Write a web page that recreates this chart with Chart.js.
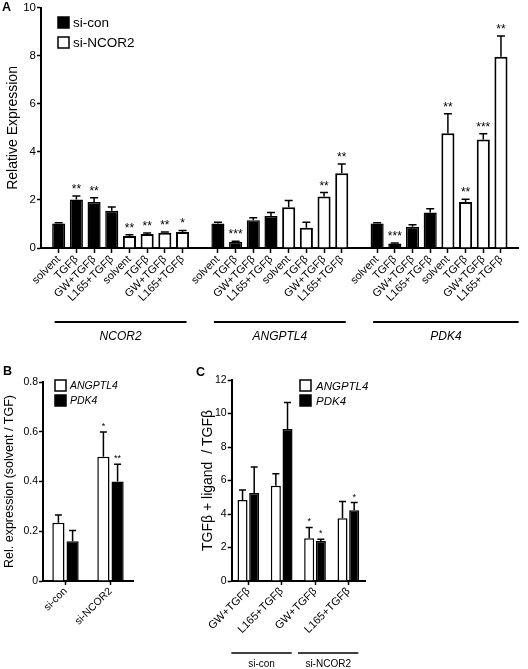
<!DOCTYPE html>
<html>
<head>
<meta charset="utf-8">
<script src="https://cdn.jsdelivr.net/npm/chart.js@4.4.1/dist/chart.umd.min.js"></script>
<style>
  body { margin: 0; background: #fff; }
  #wrap { position: relative; width: 528px; height: 669px; overflow: hidden; }
  canvas { position: absolute; }
  .panel { position: absolute; font: bold 12.5px "Liberation Sans", Arial, sans-serif; color: #000; }
</style>
</head>
<body>
<div id="wrap">
  <canvas id="chartA" width="528" height="360" style="left:0;top:0"></canvas>
  <canvas id="chartB" width="170" height="309" style="left:0;top:360px"></canvas>
  <canvas id="chartC" width="358" height="309" style="left:170px;top:360px"></canvas>
  <div class="panel" style="left:2px;top:0px">A</div>
  <div class="panel" style="left:3px;top:364px">B</div>
  <div class="panel" style="left:196px;top:365px">C</div>
</div>
<script>
const FONT = '"Liberation Sans", Arial, Helvetica, sans-serif';

// ---- panel A data (per gene: solvent, TGFb, GW+TGFb, L165+TGFb) ----
const genes = ['NCOR2', 'ANGPTL4', 'PDK4'];
const treatments = ['solvent', 'TGFβ', 'GW+TGFβ', 'L165+TGFβ'];
const siConMean  = [1.02, 2.02, 1.92, 1.55,   1.02, 0.26, 1.16, 1.33,   1.02, 0.19, 0.88, 1.48];
const siConSem   = [0.03, 0.15, 0.17, 0.16,   0.05, 0.02, 0.10, 0.15,   0.03, 0.02, 0.09, 0.15];
const siConStars = ['', '**', '**', '',       '', '***', '', '',       '', '***', '', ''];
const siNcorMean  = [0.50, 0.58, 0.63, 0.67,  1.70, 0.84, 2.15, 3.11,   4.78, 1.92, 4.52, 7.97];
const siNcorSem   = [0.05, 0.04, 0.04, 0.06,  0.28, 0.23, 0.16, 0.39,   0.81, 0.11, 0.24, 0.86];
const siNcorStars = ['**', '**', '**', '*',   '', '', '**', '**',      '**', '**', '***', '**'];

// ---- panel B data ----
const bGroups = ['si-con', 'si-NCOR2'];
const bAngptl4 = [0.234, 0.499];
const bAngptl4Sem = [0.031, 0.10];
const bAngptl4Stars = ['', '*'];
const bPdk4 = [0.16, 0.40];
const bPdk4Sem = [0.043, 0.069];
const bPdk4Stars = ['', '**'];

// ---- panel C data ----
const cLabels = ['GW+TGFβ', 'L165+TGFβ', 'GW+TGFβ', 'L165+TGFβ'];
const cAngptl4 = [4.84, 5.68, 2.55, 3.74];
const cAngptl4Sem = [0.59, 0.72, 0.65, 1.0];
const cAngptl4Stars = ['', '', '*', ''];
const cPdk4 = [5.25, 9.08, 2.39, 4.22];
const cPdk4Sem = [1.55, 1.57, 0.11, 0.46];
const cPdk4Stars = ['', '', '*', '*'];

// error bars + significance stars, drawn from the bar elements
const errorBars = {
  id: 'errorBars',
  afterDatasetsDraw(chart, args, opts) {
    const ctx = chart.ctx;
    const y = chart.scales.y;
    chart.data.datasets.forEach((ds, di) => {
      const meta = chart.getDatasetMeta(di);
      meta.data.forEach((bar, i) => {
        const v = ds.data[i];
        if (v == null) return;
        const top = y.getPixelForValue(v + ds.err[i]);
        ctx.save();
        ctx.strokeStyle = '#000';
        ctx.lineWidth = opts.width;
        ctx.beginPath();
        ctx.moveTo(bar.x, bar.y);
        ctx.lineTo(bar.x, top);
        ctx.moveTo(bar.x - opts.cap, top);
        ctx.lineTo(bar.x + opts.cap, top);
        ctx.stroke();
        if (ds.stars && ds.stars[i]) {
          ctx.fillStyle = '#000';
          ctx.font = opts.starSize + 'px ' + FONT;
          ctx.textAlign = 'center';
          ctx.textBaseline = 'alphabetic';
          ctx.fillText(ds.stars[i], bar.x, top - opts.starGap);
        }
        ctx.restore();
      });
    });
  }
};

// small box legend sitting inside the plot
const boxLegend = {
  id: 'boxLegend',
  afterDraw(chart, args, o) {
    const ctx = chart.ctx;
    ctx.save();
    o.items.forEach((it, k) => {
      const by = o.y + k * o.step;
      ctx.fillStyle = it.fill;
      ctx.fillRect(o.x, by, o.box, o.box);
      ctx.strokeStyle = '#000';
      ctx.lineWidth = 1.5;
      ctx.strokeRect(o.x, by, o.box, o.box);
      ctx.fillStyle = '#000';
      ctx.font = o.font;
      ctx.textAlign = 'left';
      ctx.textBaseline = 'middle';
      ctx.fillText(it.text, o.x + o.box + o.gap, by + o.box / 2 + 1);
    });
    ctx.restore();
  }
};

// group underline + name below the x labels
const groupLines = {
  id: 'groupLines',
  afterDraw(chart, args, o) {
    const ctx = chart.ctx;
    const x = chart.scales.x;
    ctx.save();
    o.groups.forEach(g => {
      const x1 = x.getPixelForValue(g.from) - o.padL;
      const x2 = g.toEdge ? chart.chartArea.right : x.getPixelForValue(g.to) + o.padR;
      ctx.strokeStyle = '#000';
      ctx.lineWidth = o.width;
      ctx.beginPath();
      ctx.moveTo(x1, o.y);
      ctx.lineTo(x2, o.y);
      ctx.stroke();
      ctx.fillStyle = '#000';
      ctx.font = o.font;
      ctx.textAlign = 'center';
      ctx.textBaseline = 'middle';
      ctx.fillText(g.text, (x1 + x2) / 2, o.textY);
    });
    ctx.restore();
  }
};

function yAxis(min, max, step, title, titleSize, titlePad, width, tickSize) {
  return {
    min: min, max: max,
    ticks: { stepSize: step, color: '#000', padding: 1, font: { family: FONT, size: tickSize } },
    grid: { drawOnChartArea: false, tickLength: 4, tickWidth: 1.5, tickColor: '#000' },
    border: { color: '#000', width: 2 },
    title: { display: true, text: title, color: '#000', font: { family: FONT, size: titleSize }, padding: { top: titlePad, bottom: 0 } },
    afterFit: s => { s.width = width; }
  };
}

// ---------------- panel A ----------------
const labelsA = [];
const dataCon = [], semCon = [], starCon = [];
const dataNcor = [], semNcor = [], starNcor = [];
const groupsA = [];
genes.forEach((g, gi) => {
  labelsA.push(''); dataCon.push(null); semCon.push(0); starCon.push(''); dataNcor.push(null); semNcor.push(0); starNcor.push('');
  const start = labelsA.length;
  treatments.forEach((t, ti) => {
    const k = gi * 4 + ti;
    labelsA.push(t);
    dataCon.push(siConMean[k]); semCon.push(siConSem[k]); starCon.push(siConStars[k]);
    dataNcor.push(null); semNcor.push(0); starNcor.push('');
  });
  treatments.forEach((t, ti) => {
    const k = gi * 4 + ti;
    labelsA.push(t);
    dataCon.push(null); semCon.push(0); starCon.push('');
    dataNcor.push(siNcorMean[k]); semNcor.push(siNcorSem[k]); starNcor.push(siNcorStars[k]);
  });
  groupsA.push({ from: start, to: labelsA.length - 1, text: g, toEdge: gi === genes.length - 1 });
});
labelsA.push(''); dataCon.push(null); semCon.push(0); starCon.push(''); dataNcor.push(null); semNcor.push(0); starNcor.push('');

new Chart(document.getElementById('chartA'), {
  type: 'bar',
  data: {
    labels: labelsA,
    datasets: [
      { label: 'si-con', data: dataCon, err: semCon, stars: starCon, backgroundColor: '#000', borderColor: '#000', borderWidth: 1.5, grouped: false },
      { label: 'si-NCOR2', data: dataNcor, err: semNcor, stars: starNcor, backgroundColor: '#fff', borderColor: '#000', borderWidth: 2, grouped: false }
    ]
  },
  options: {
    responsive: false,
    animation: false,
    layout: { padding: { top: 7, right: 8, left: 0, bottom: 0 } },
    datasets: { bar: { barPercentage: 0.74, categoryPercentage: 1 } },
    scales: {
      x: {
        offset: false,
        ticks: { autoSkip: false, minRotation: 45, maxRotation: 45, padding: 0, color: '#000', font: { family: FONT, size: 11 } },
        grid: { drawOnChartArea: false, offset: false, tickLength: 5, tickWidth: 1.5,
                tickColor: c => labelsA[c.index] ? '#000' : 'rgba(0,0,0,0)' },
        border: { color: '#000', width: 2 },
        afterFit: s => { s.height = 112; }
      },
      y: yAxis(0, 10, 2, 'Relative Expression', 14, 5, 41, 11.5)
    },
    plugins: {
      legend: { display: false },
      tooltip: { enabled: false },
      errorBars: { width: 1.5, cap: 4, starSize: 12, starGap: 3 },
      boxLegend: { x: 58, y: 17, step: 20, box: 11, gap: 4, font: '13.5px ' + FONT,
        items: [{ text: 'si-con', fill: '#000' }, { text: 'si-NCOR2', fill: '#fff' }] },
      groupLines: { y: 322, textY: 337, padL: 4, padR: 4, width: 2, font: 'italic 12px ' + FONT, groups: groupsA }
    }
  },
  plugins: [errorBars, boxLegend, groupLines]
});

// ---------------- panel B ----------------
new Chart(document.getElementById('chartB'), {
  type: 'bar',
  data: {
    labels: bGroups,
    datasets: [
      { label: 'ANGPTL4', data: bAngptl4, err: bAngptl4Sem, stars: bAngptl4Stars, backgroundColor: '#fff', borderColor: '#000', borderWidth: 1.5 },
      { label: 'PDK4', data: bPdk4, err: bPdk4Sem, stars: bPdk4Stars, backgroundColor: '#000', borderColor: '#000', borderWidth: 1.5 }
    ]
  },
  options: {
    responsive: false,
    animation: false,
    layout: { padding: { top: 22, right: 37, left: 0, bottom: 0 } },
    datasets: { bar: { barPercentage: 0.86, categoryPercentage: 0.63 } },
    scales: {
      x: {
        ticks: { autoSkip: false, minRotation: 45, maxRotation: 45, padding: 0, color: '#000', font: { family: FONT, size: 10.5 } },
        grid: { drawOnChartArea: false, offset: false, tickLength: 4, tickWidth: 1.5, tickColor: '#000' },
        border: { color: '#000', width: 2 },
        afterFit: s => { s.height = 88; }
      },
      y: yAxis(0, 0.8, 0.2, 'Rel. expression (solvent / TGF)', 12.5, 2, 43, 10.5)
    },
    plugins: {
      legend: { display: false },
      tooltip: { enabled: false },
      errorBars: { width: 1.5, cap: 3.5, starSize: 9, starGap: 3 },
      boxLegend: { x: 55, y: 20, step: 15, box: 11, gap: 4, font: 'italic 10.5px ' + FONT,
        items: [{ text: 'ANGPTL4', fill: '#fff' }, { text: 'PDK4', fill: '#000' }] }
    }
  },
  plugins: [errorBars, boxLegend]
});

// ---------------- panel C ----------------
new Chart(document.getElementById('chartC'), {
  type: 'bar',
  data: {
    labels: cLabels,
    datasets: [
      { label: 'ANGPTL4', data: cAngptl4, err: cAngptl4Sem, stars: cAngptl4Stars, backgroundColor: '#fff', borderColor: '#000', borderWidth: 1.5 },
      { label: 'PDK4', data: cPdk4, err: cPdk4Sem, stars: cPdk4Stars, backgroundColor: '#000', borderColor: '#000', borderWidth: 1.5 }
    ]
  },
  options: {
    responsive: false,
    animation: false,
    layout: { padding: { top: 20, right: 163, left: 28, bottom: 0 } },
    datasets: { bar: { barPercentage: 0.86, categoryPercentage: 0.7 } },
    scales: {
      x: {
        ticks: { autoSkip: false, minRotation: 45, maxRotation: 45, padding: 0, color: '#000', font: { family: FONT, size: 11 } },
        grid: { drawOnChartArea: false, offset: false, tickLength: 4, tickWidth: 1.5, tickColor: '#000' },
        border: { color: '#000', width: 2 },
        afterFit: s => { s.height = 88; }
      },
      y: yAxis(0, 12, 2, 'TGFβ + ligand  / TGFβ', 14, 2, 33.7, 10.5)
    },
    plugins: {
      legend: { display: false },
      tooltip: { enabled: false },
      errorBars: { width: 1.5, cap: 3.5, starSize: 9, starGap: 3 },
      boxLegend: { x: 130, y: 20, step: 15, box: 11, gap: 5, font: 'italic 11.5px ' + FONT,
        items: [{ text: 'ANGPTL4', fill: '#fff' }, { text: 'PDK4', fill: '#000' }] },
      groupLines: { y: 293, textY: 304, padL: 17, padR: 10, width: 1.5, font: '10px ' + FONT,
        groups: [{ from: 0, to: 1, text: 'si-con' }, { from: 2, to: 3, text: 'si-NCOR2' }] }
    }
  },
  plugins: [errorBars, boxLegend, groupLines]
});
</script>
</body>
</html>
